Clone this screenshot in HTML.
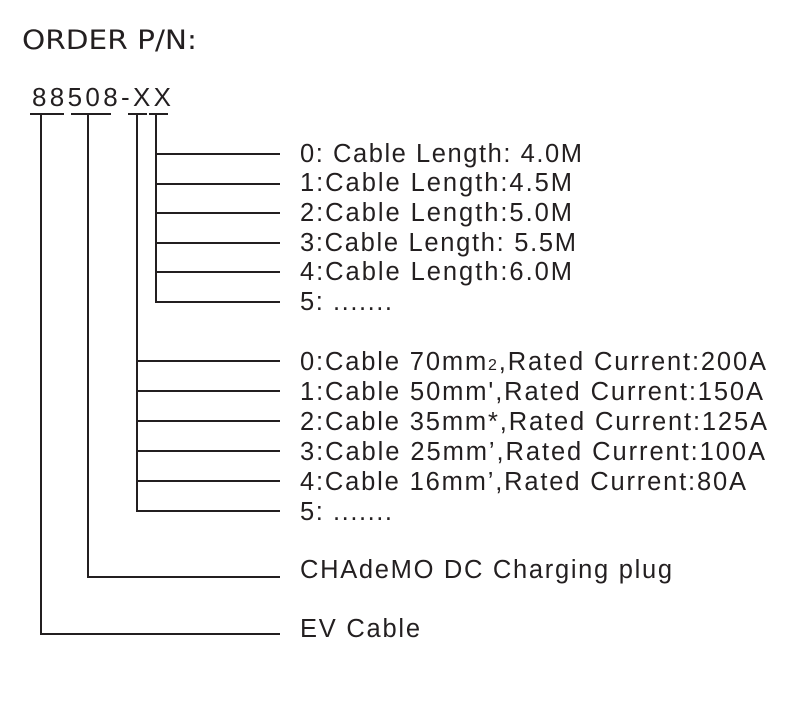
<!DOCTYPE html>
<html><head><meta charset="utf-8"><style>
html,body{margin:0;padding:0;background:#fff;}
svg{display:block;}
text{font-family:"Liberation Sans",Arial,sans-serif;fill:#231f20;}
</style></head><body>
<svg width="799" height="718" viewBox="0 0 799 718" xmlns="http://www.w3.org/2000/svg">
<text x="22" y="49" font-size="27" textLength="175" lengthAdjust="spacingAndGlyphs" style="font-family:'DejaVu Sans',sans-serif;font-weight:normal" fill="#2a2a2a">ORDER P/N:</text>
<text x="32" y="106" font-size="26" textLength="139" lengthAdjust="spacing">88508-XX</text>
<g stroke="#231f20" stroke-width="2" fill="none">
<line x1="30" y1="114" x2="64" y2="114"/>
<line x1="71" y1="114" x2="111" y2="114"/>
<line x1="128" y1="114" x2="147" y2="114"/>
<line x1="149" y1="114" x2="168" y2="114"/>
<polyline points="156,114 156,302 280,302"/>
<line x1="156" y1="154" x2="280" y2="154"/>
<line x1="156" y1="184" x2="280" y2="184"/>
<line x1="156" y1="213" x2="280" y2="213"/>
<line x1="156" y1="243" x2="280" y2="243"/>
<line x1="156" y1="272" x2="280" y2="272"/>
<polyline points="137,114 137,511 280,511"/>
<line x1="137" y1="361" x2="280" y2="361"/>
<line x1="137" y1="391" x2="280" y2="391"/>
<line x1="137" y1="421" x2="280" y2="421"/>
<line x1="137" y1="451" x2="280" y2="451"/>
<line x1="137" y1="481" x2="280" y2="481"/>
<polyline points="88,114 88,577 280,577"/>
<polyline points="41,114 41,634 280,634"/>
</g>
<g font-size="25.5">
<text x="300" y="162" textLength="282" lengthAdjust="spacing">0: Cable Length: 4.0M</text>
<text x="300" y="191" textLength="272" lengthAdjust="spacing">1:Cable Length:4.5M</text>
<text x="300" y="221" textLength="272" lengthAdjust="spacing">2:Cable Length:5.0M</text>
<text x="300" y="251" textLength="276" lengthAdjust="spacing">3:Cable Length: 5.5M</text>
<text x="300" y="280" textLength="272" lengthAdjust="spacing">4:Cable Length:6.0M</text>
<text x="300" y="310" textLength="92" lengthAdjust="spacing">5: .......</text>
<text x="300" y="370" textLength="466" lengthAdjust="spacing">0:Cable 70mm<tspan font-size="16">2</tspan>,Rated Current:200A</text>
<text x="300" y="400" textLength="463" lengthAdjust="spacing">1:Cable 50mm',Rated Current:150A</text>
<text x="300" y="430" textLength="467" lengthAdjust="spacing">2:Cable 35mm*,Rated Current:125A</text>
<text x="300" y="460" textLength="465" lengthAdjust="spacing">3:Cable 25mm’,Rated Current:100A</text>
<text x="300" y="490" textLength="446" lengthAdjust="spacing">4:Cable 16mm’,Rated Current:80A</text>
<text x="300" y="520" textLength="92" lengthAdjust="spacing">5: .......</text>
<text x="300" y="578" textLength="372" lengthAdjust="spacing">CHAdeMO DC Charging plug</text>
<text x="300" y="637" textLength="120" lengthAdjust="spacing">EV Cable</text>
</g>
</svg>
</body></html>
